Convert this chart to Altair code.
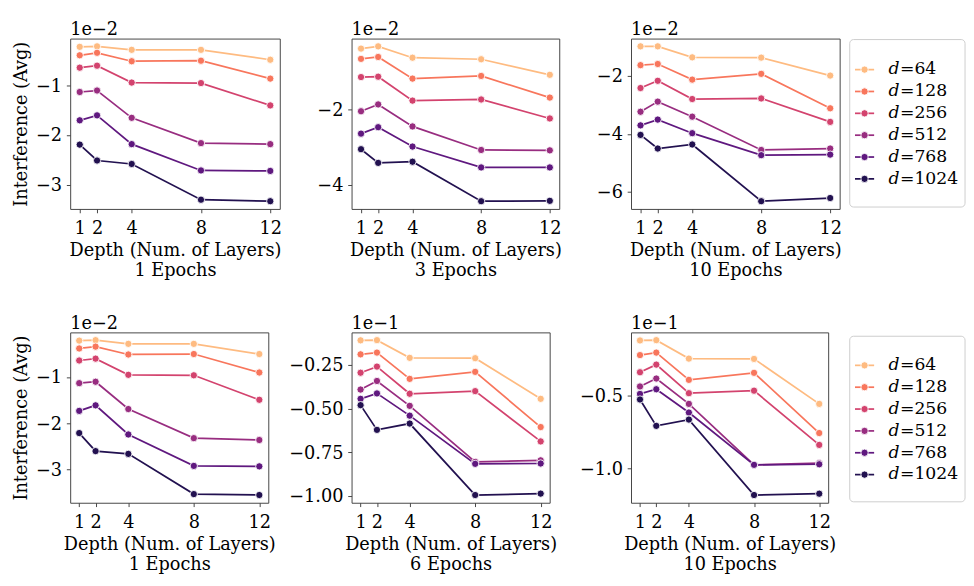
import altair as alt
import pandas as pd

FONT = "DejaVu Serif"
FS = 18.5
H = 178

depths = [1, 2, 4, 8, 12]
dims = ["64", "128", "256", "512", "768", "1024"]
colors = ["#febb81", "#f8765c", "#d3436e", "#982d80", "#5f187f", "#221150"]

# values are given in units of each panel's offset label (1e-2 or 1e-1)
top_1ep = [
    [-0.22, -0.21, -0.28, -0.28, -0.48],
    [-0.39, -0.34, -0.51, -0.50, -0.86],
    [-0.64, -0.60, -0.94, -0.95, -1.40],
    [-1.13, -1.10, -1.65, -2.16, -2.18],
    [-1.70, -1.60, -2.18, -2.71, -2.72],
    [-2.19, -2.51, -2.58, -3.30, -3.33],
]
top_3ep = [
    [-0.40, -0.34, -0.64, -0.68, -1.09],
    [-0.67, -0.62, -1.19, -1.12, -1.69],
    [-1.15, -1.14, -1.77, -1.74, -2.24],
    [-2.05, -1.87, -2.45, -3.07, -3.08],
    [-2.64, -2.47, -2.98, -3.53, -3.53],
    [-3.05, -3.41, -3.38, -4.42, -4.41],
]
top_10ep = [
    [-0.97, -0.97, -1.35, -1.36, -1.98],
    [-1.62, -1.58, -2.12, -1.92, -3.11],
    [-2.41, -2.16, -2.79, -2.77, -3.58],
    [-3.23, -2.88, -3.40, -4.55, -4.50],
    [-3.70, -3.50, -3.97, -4.73, -4.71],
    [-4.03, -4.50, -4.36, -6.32, -6.21],
]
bot_1ep = [
    [-0.21, -0.20, -0.28, -0.28, -0.50],
    [-0.38, -0.34, -0.51, -0.50, -0.90],
    [-0.64, -0.60, -0.95, -0.96, -1.49],
    [-1.13, -1.10, -1.69, -2.32, -2.36],
    [-1.73, -1.61, -2.24, -2.92, -2.93],
    [-2.21, -2.60, -2.66, -3.53, -3.55],
]
bot_6ep = [
    [-0.110, -0.109, -0.210, -0.212, -0.444],
    [-0.190, -0.180, -0.330, -0.290, -0.605],
    [-0.295, -0.260, -0.415, -0.400, -0.687],
    [-0.391, -0.342, -0.484, -0.804, -0.795],
    [-0.444, -0.413, -0.540, -0.815, -0.813],
    [-0.480, -0.621, -0.585, -0.993, -0.985],
]
bot_10ep = [
    [-0.125, -0.123, -0.249, -0.251, -0.558],
    [-0.225, -0.208, -0.394, -0.346, -0.757],
    [-0.342, -0.290, -0.485, -0.468, -0.838],
    [-0.439, -0.385, -0.558, -0.974, -0.963],
    [-0.490, -0.458, -0.617, -0.974, -0.970],
    [-0.528, -0.708, -0.665, -1.180, -1.171],
]

x_ticks = [1, 2, 4, 8, 12]

color_scale = alt.Scale(domain=dims, range=colors)


def to_df(rows):
    recs = []
    for d, vals in zip(dims, rows):
        for x, v in zip(depths, vals):
            recs.append({"depth": x, "value": v, "d": d})
    return pd.DataFrame(recs)


def panel(rows, epochs, offset, yticks, fmt, ytitle, width, height=H):
    df = to_df(rows)
    vals = [v for r in rows for v in r]
    lo, hi = min(vals), max(vals)
    m = (hi - lo) * 0.05
    ydom = [lo - m, hi + m]
    xm = (max(depths) - min(depths)) * 0.05
    xdom = [min(depths) - xm, max(depths) + xm]
    x = alt.X(
        "depth:Q",
        scale=alt.Scale(domain=xdom, nice=False, zero=False),
        axis=alt.Axis(values=x_ticks, format="d", labelPadding=7, titlePadding=4,
                      title=["Depth (Num. of Layers)", f"{epochs} Epochs"]),
    )
    yargs = dict(values=yticks,
                 labelExpr=f"'\u2212' + format(abs(datum.value), '{fmt}')")
    yargs["title"] = ytitle if ytitle else None
    y = alt.Y("value:Q", scale=alt.Scale(domain=ydom, nice=False, zero=False), axis=alt.Axis(**yargs))
    base = alt.Chart(df)
    line = base.mark_line(strokeWidth=1.8).encode(
        x=x, y=y, color=alt.Color("d:N", scale=color_scale, legend=None), detail="d:N"
    )
    pts = base.mark_point(filled=True, size=58, stroke="white", strokeWidth=0.9, opacity=1).encode(
        x=x, y=y, fill=alt.Fill("d:N", scale=color_scale, legend=None)
    )
    off = alt.Chart(pd.DataFrame({"t": [offset]})).mark_text(
        align="left", baseline="alphabetic", font=FONT, fontSize=FS, color="black"
    ).encode(x=alt.value(0), y=alt.value(-4), text="t:N")
    return alt.layer(line, pts, off).properties(
        width=width,
        height=height,
        view=alt.ViewBackground(stroke="#404040", strokeWidth=1),
    )


def spacer(width):
    return alt.Chart(pd.DataFrame({"a": [0]})).mark_point(opacity=0).encode(
        x=alt.value(0), y=alt.value(0)
    ).properties(width=width, height=H, view=alt.ViewBackground(stroke="transparent"))


def legend_chart(first, last, box_top, box_bottom):
    df = pd.DataFrame({"d": dims, "dlab": ["d"] * 6, "rest": ["=" + s for s in dims]})
    ysc = alt.Y("d:N", sort=dims, scale=alt.Scale(type="point", domain=dims, range=[first, last]), axis=None)
    base = alt.Chart(df)
    box = alt.Chart(pd.DataFrame({"b": [0]})).mark_rect(
        fill="white", stroke="#cccccc", strokeWidth=1, cornerRadius=4
    ).encode(x=alt.value(0.5), x2=alt.value(121), y=alt.value(box_top), y2=alt.value(box_bottom))
    rule = base.mark_rule(strokeWidth=1.8).encode(
        x=alt.value(6), x2=alt.value(26), y=ysc, color=alt.Color("d:N", scale=color_scale, legend=None)
    )
    pt = base.mark_point(filled=True, size=58, stroke="white", strokeWidth=0.9, opacity=1).encode(
        x=alt.value(16), y=ysc, fill=alt.Fill("d:N", scale=color_scale, legend=None)
    )
    dtxt = base.mark_text(align="left", baseline="middle", font=FONT, fontSize=18, fontStyle="italic",
                          color="black").encode(x=alt.value(41), y=ysc, text="dlab:N")
    rtxt = base.mark_text(align="left", baseline="middle", font=FONT, fontSize=18,
                          color="black").encode(x=alt.value(53), y=ysc, text="rest:N")
    return alt.layer(box, rule, pt, dtxt, rtxt).properties(
        width=121,
        height=H,
        view=alt.ViewBackground(stroke="transparent"),
    )


p1 = panel(top_1ep, 1, "1e\u22122", [-1, -2, -3], ".0f", "Interference (Avg)", 219)
p2 = panel(top_3ep, 3, "1e\u22122", [-2, -4], ".0f", None, 217)
p3 = panel(top_10ep, 10, "1e\u22122", [-2, -4, -6], ".0f", None, 218)
p4 = panel(bot_1ep, 1, "1e\u22122", [-1, -2, -3], ".0f", "Interference (Avg)", 207)
p5 = panel(bot_6ep, 6, "1e\u22121", [-0.25, -0.5, -0.75, -1.0], ".2f", None, 207)
p6 = panel(bot_10ep, 10, "1e\u22121", [-0.5, -1.0], ".1f", None, 206)

chart = alt.concat(
    p1, spacer(58), p2, spacer(58), p3, spacer(10), legend_chart(21, 158, 1, 176),
    p4, spacer(75), p5, spacer(75), p6, spacer(10), legend_chart(23, 160, 4, 177),
    columns=7,
    spacing=alt.RowColnumber(row=129, column=0),
    bounds="flush",
    align="none",
).properties(
    padding={"left": 4, "top": -1, "right": 0, "bottom": 0}
).configure_axis(
    domain=False,
    grid=False,
    ticks=True,
    tickSize=4,
    tickColor="#404040",
    tickWidth=1,
    labelPadding=5,
    labelFont=FONT,
    labelFontSize=FS,
    labelColor="black",
    titleFont=FONT,
    titleFontSize=FS,
    titleFontWeight="normal",
    titleColor="black",
    titleLineHeight=21,
    titlePadding=5,
).configure_view(strokeWidth=1)

chart.save("out.html", embed_options={"renderer": "svg", "actions": False})
